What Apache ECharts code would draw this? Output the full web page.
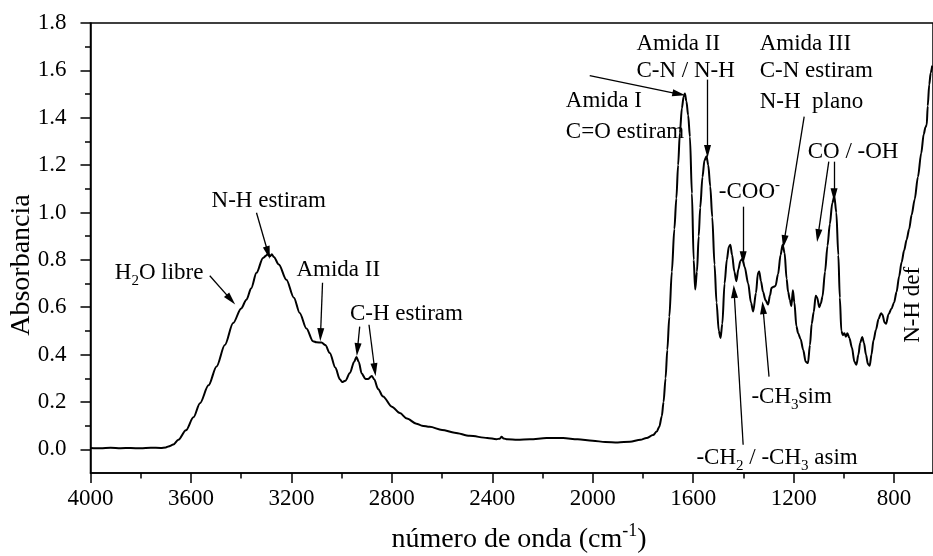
<!DOCTYPE html>
<html><head><meta charset="utf-8">
<script src="https://cdn.jsdelivr.net/npm/echarts@6/dist/echarts.min.js"></script>
<style>html,body{margin:0;padding:0;background:#fff}#c{width:933px;height:556px}</style>
</head><body><div id="c"></div>
<script>
// ---- data ----
const wavenumber = [4000,3960,3920,3880,3840,3800,3760,3720,3700,3690,3670,3650,3620,3590,3564,3530,3498,3465,3432,3400,3379,3360,3339,3313,3300,3293,3285,3278,3270,3250,3220,3190,3167,3140,3114,3100,3080,3065,3047,3025,3007,2998,2985,2967,2950,2941,2932,2920,2905,2894,2880,2870,2855,2835,2800,2768,2740,2702,2680,2649,2600,2550,2490,2420,2383,2370,2363,2355,2340,2300,2250,2184,2118,2060,2000,1950,1900,1852,1810,1786,1760,1745,1735,1725,1718,1710,1703,1695,1685,1675,1667,1660,1653,1645,1638,1633,1627,1620,1613,1605,1598,1592,1585,1578,1572,1563,1555,1547,1540,1532,1524,1515,1507,1498,1491,1484,1475,1466,1458,1452,1445,1436,1428,1420,1412,1404,1395,1381,1370,1361,1350,1342,1337,1330,1322,1312,1302,1294,1288,1280,1272,1262,1252,1244,1236,1228,1222,1215,1209,1203,1197,1189,1182,1172,1162,1152,1143,1135,1128,1120,1112,1106,1098,1092,1085,1075,1065,1056,1046,1038,1030,1022,1016,1010,1004,998,992,986,978,968,958,950,942,935,927,920,912,904,897,890,882,872,862,852,846,838,832,822,810,800,790,780,770,760,750,740,730,718,705,692,682,675,670,666,660,654,648];
const absorbance = [0.006,0.004,0.007,0.005,0.006,0.004,0.007,0.006,0.008,0.012,0.02,0.04,0.08,0.135,0.195,0.27,0.35,0.44,0.533,0.595,0.632,0.68,0.745,0.808,0.818,0.826,0.815,0.824,0.812,0.78,0.716,0.64,0.576,0.51,0.456,0.452,0.451,0.44,0.407,0.345,0.296,0.284,0.29,0.322,0.37,0.39,0.37,0.32,0.297,0.297,0.31,0.295,0.255,0.223,0.18,0.153,0.13,0.108,0.1,0.095,0.082,0.07,0.057,0.048,0.043,0.045,0.053,0.046,0.042,0.04,0.042,0.048,0.048,0.042,0.036,0.031,0.029,0.032,0.04,0.048,0.06,0.075,0.095,0.14,0.2,0.3,0.42,0.56,0.75,0.93,1.06,1.2,1.336,1.44,1.49,1.502,1.47,1.41,1.32,1.08,0.8,0.675,0.75,0.9,1.02,1.15,1.22,1.237,1.2,1.11,0.98,0.78,0.62,0.5,0.47,0.53,0.7,0.8,0.855,0.864,0.82,0.75,0.71,0.76,0.795,0.805,0.77,0.7,0.62,0.582,0.66,0.745,0.751,0.71,0.665,0.63,0.611,0.65,0.682,0.686,0.69,0.74,0.82,0.864,0.83,0.72,0.665,0.63,0.605,0.672,0.62,0.52,0.49,0.465,0.42,0.37,0.364,0.44,0.53,0.58,0.648,0.64,0.6,0.615,0.645,0.75,0.86,0.95,1.04,1.068,1.0,0.82,0.64,0.5,0.482,0.49,0.475,0.49,0.47,0.43,0.37,0.357,0.4,0.45,0.474,0.45,0.4,0.36,0.353,0.4,0.46,0.505,0.55,0.575,0.568,0.535,0.53,0.57,0.595,0.62,0.665,0.73,0.79,0.84,0.885,0.93,0.99,1.055,1.15,1.25,1.33,1.36,1.37,1.45,1.54,1.59,1.62];
const xMajorTicks = [4000,3600,3200,2800,2400,2000,1600,1200,800];
const xMinorTicks = [3800,3400,3000,2600,2200,1800,1400,1000];
const yMajorTicks = [0,0.2,0.4,0.6,0.8,1.0,1.2,1.4,1.6,1.8];
const yMinorTicks = [0.1,0.3,0.5,0.7,0.9,1.1,1.3,1.5,1.7];
const xTitle = [['número de onda (cm','n'],['-1','sup'],[')','n']];
const yTitle = 'Absorbancia';
// annotation texts: parts, anchor [wavenumber, absorbance] (left, baseline)
const noteTexts = [
  {parts:[['H','n'],['2','sub'],['O libre','n']], at:[3903,0.712]},
  {parts:[['N-H estiram','n']], at:[3518,1.019]},
  {parts:[['Amida II','n']], at:[3180,0.725]},
  {parts:[['C-H estiram','n']], at:[2967,0.540]},
  {parts:[['Amida I','n']], at:[2107,1.438]},
  {parts:[['C=O estiram','n']], at:[2107,1.311]},
  {parts:[['Amida II','n']], at:[1826,1.680]},
  {parts:[['C-N / N-H','n']], at:[1826,1.568]},
  {parts:[['Amida III','n']], at:[1335,1.680]},
  {parts:[['C-N estiram','n']], at:[1335,1.568]},
  {parts:[['N-H  plano','n']], at:[1335,1.434]},
  {parts:[['CO / -OH','n']], at:[1144,1.223]},
  {parts:[['-COO','n'],['-','sup']], at:[1498,1.054]},
  {parts:[['-CH','n'],['3','sub'],['sim','n']], at:[1368,0.188]},
  {parts:[['-CH','n'],['2','sub'],[' / -CH','n'],['3','sub'],[' asim','n']], at:[1587,-0.069]}
];
const noteVertical = {text:'N-H def', at:[726,0.61]};
// arrows: from -> to (head), in data coords
const noteArrows = [
  [[3525,0.733],[3441,0.632]],
  [[3339,0.999],[3293,0.830]],
  [[3076,0.7035],[3084,0.484]],
  [[2928,0.518],[2937,0.421]],
  [[2891,0.526],[2868,0.336]],
  [[2012,1.578],[1657,1.50]],
  [[1543,1.561],[1543,1.257]],
  [[1158,1.405],[1238,0.877]],
  [[1060,1.2145],[1103,0.902]],
  [[1039,1.2145],[1039,1.075]],
  [[1401,1.0245],[1401,0.809]],
  [[1401,0.019],[1437,0.666]],
  [[1298,0.307],[1322,0.598]]
];

// ---- chart ----
const FONT = '"Liberation Serif","Times New Roman",serif';
const NOTE_SIZE = 23;
const chart = echarts.init(document.getElementById('c'));
const lineData = wavenumber.map((w,i)=>[w,absorbance[i]]);
const axisCommon = {type:'value', splitLine:{show:false}, axisLine:{onZero:false, lineStyle:{color:'#000', width:1.5}}};
chart.setOption({
  animation:false,
  backgroundColor:'#fff',
  grid:{left:90.5, right:0, top:23, bottom:83, show:true, borderColor:'#000', borderWidth:1.5, containLabel:false, outerBoundsMode:'none'},
  xAxis:[
    Object.assign({}, axisCommon, {inverse:true, min:645, max:4000, position:'bottom',
      axisTick:{customValues:xMajorTicks, length:10, lineStyle:{color:'#000', width:1.5}},
      axisLabel:{customValues:xMajorTicks, color:'#000', fontFamily:FONT, fontSize:23, margin:14, formatter:v=>String(v)}}),
    Object.assign({}, axisCommon, {inverse:true, min:645, max:4000, position:'bottom', axisLine:{show:false, onZero:false},
      axisTick:{customValues:xMinorTicks, length:5.5, lineStyle:{color:'#000', width:1.5}},
      axisLabel:{show:false}})
  ],
  yAxis:[
    Object.assign({}, axisCommon, {min:-0.1, max:1.8, position:'left',
      axisTick:{customValues:yMajorTicks, length:10, lineStyle:{color:'#000', width:1.5}},
      axisLabel:{customValues:yMajorTicks, color:'#000', fontFamily:FONT, fontSize:23, margin:24, formatter:v=>Math.abs(v)<1e-9?'0.0':v.toFixed(1)}}),
    Object.assign({}, axisCommon, {min:-0.1, max:1.8, position:'left', axisLine:{show:false, onZero:false},
      axisTick:{customValues:yMinorTicks, length:5.5, lineStyle:{color:'#000', width:1.5}},
      axisLabel:{show:false}})
  ],
  series:[{
    type:'line', xAxisIndex:0, yAxisIndex:0, data:lineData, showSymbol:false,
    smooth:0.3, smoothMonotone:'x', lineStyle:{color:'#000', width:2}, silent:true,
    markLine:{silent:true, symbol:['none','triangle'], symbolSize:[7,13], label:{show:false},
      lineStyle:{color:'#000', width:1.3, type:'solid'}, emphasis:{disabled:true},
      itemStyle:{color:'#000'},
      data: noteArrows.map(a=>[{coord:a[0]},{coord:a[1]}])}
  }]
});

// ---- text annotations ----
const ctx = document.createElement('canvas').getContext('2d');
function tw(t, size){ ctx.font = size+'px "Liberation Serif"'; return ctx.measureText(t).width; }
function richParts(parts, x, baseline, size, align){
  const els = [];
  const seg = parts.map(([t,k])=>{
    const s = k==='n'?size:Math.round(size*0.65);
    const dy = k==='sub'?size*0.22:(k==='sup'?-size*0.42:0);
    return {t,s,dy,w:tw(t,s)};
  });
  const total = seg.reduce((a,b)=>a+b.w,0);
  let cx = align==='center'? x-total/2 : x;
  seg.forEach(g=>{
    els.push({type:'text', x:cx, y:baseline+g.dy-g.s*0.32, silent:true,
      style:{text:g.t, fill:'#000', font:g.s+'px "Liberation Serif"', textAlign:'left', textVerticalAlign:'middle'}});
    cx += g.w;
  });
  return els;
}
const P = p=>chart.convertToPixel({xAxisIndex:0,yAxisIndex:0}, p);
let graphics = [];
noteTexts.forEach(n=>{ const p=P(n.at); graphics = graphics.concat(richParts(n.parts, p[0], p[1], NOTE_SIZE, 'left')); });
const pv = P(noteVertical.at);
graphics.push({type:'text', x:pv[0], y:pv[1], rotation:Math.PI/2, silent:true,
  style:{text:noteVertical.text, fill:'#000', font:NOTE_SIZE+'px "Liberation Serif"', textAlign:'center', textVerticalAlign:'middle'}});
// axis titles
graphics = graphics.concat(richParts(xTitle, 519, 549, 28, 'center'));
graphics.push({type:'text', x:22, y:265, rotation:Math.PI/2, silent:true,
  style:{text:yTitle, fill:'#000', font:'28px "Liberation Serif"', textAlign:'center', textVerticalAlign:'middle'}});
chart.setOption({graphic:{elements:graphics}});
</script></body></html>
